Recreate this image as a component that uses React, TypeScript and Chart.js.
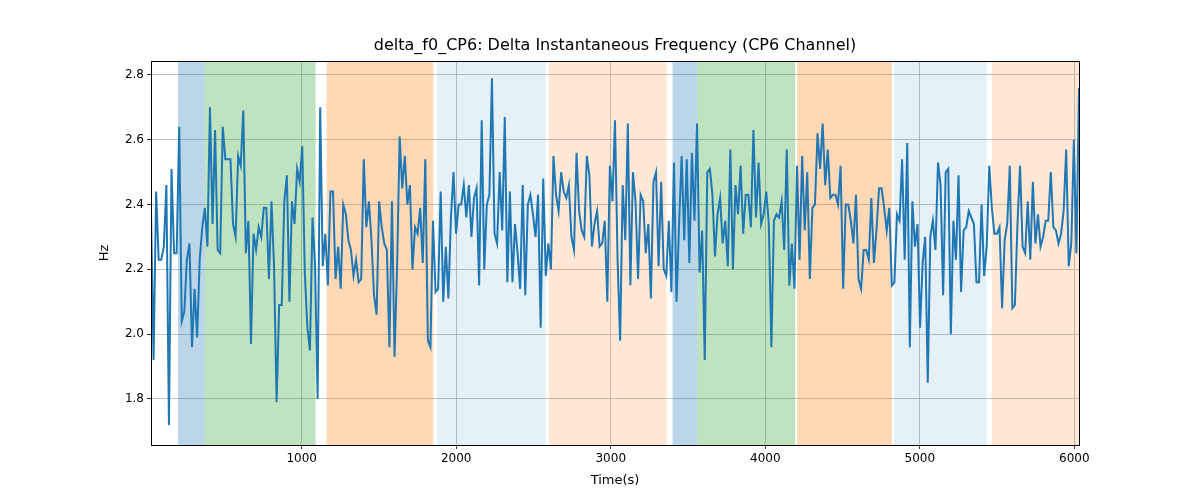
import React, { useEffect, useRef } from "react";
import { Chart, registerables } from "chart.js";
Chart.register(...registerables);

const TITLE = "delta_f0_CP6: Delta Instantaneous Frequency (CP6 Channel)";
const X_LABEL = "Time(s)";
const Y_LABEL = "Hz";
const T_START = 25;
const T_END = 6030;
const Y_TICKS = [1.8, 2.0, 2.2, 2.4, 2.6, 2.8];
const X_TICKS = [1000, 2000, 3000, 4000, 5000, 6000];

const VALUES: number[] = [
  2.38, 1.92, 2.44, 2.23, 2.23, 2.27, 2.46, 1.72, 2.51, 2.25, 2.25, 2.64, 2.04, 2.07, 2.23, 2.28, 1.96, 2.14, 1.99, 2.23,
  2.33, 2.39, 2.27, 2.70, 2.34, 2.63, 2.26, 2.25, 2.64, 2.54, 2.54, 2.54, 2.34, 2.30, 2.55, 2.52, 2.69, 2.25, 2.35, 1.97,
  2.31, 2.26, 2.33, 2.30, 2.39, 2.39, 2.17, 2.41, 2.21, 1.79, 2.09, 2.09, 2.41, 2.49, 2.10, 2.41, 2.34, 2.51, 2.47,
  2.58, 2.19, 2.02, 1.95, 2.36, 2.21, 1.80, 2.70, 2.21, 2.31, 2.15, 2.44, 2.44, 2.17, 2.27, 2.14, 2.40, 2.37, 2.29, 2.26,
  2.18, 2.23, 2.16, 2.17, 2.54, 2.33, 2.41, 2.29, 2.12, 2.06, 2.41, 2.33, 2.28, 2.26, 1.96, 2.41, 1.93, 2.21, 2.61, 2.45,
  2.55, 2.40, 2.46, 2.20, 2.33, 2.31, 2.39, 2.22, 2.54, 1.98, 1.96, 2.35, 2.13, 2.14, 2.44, 2.10, 2.27, 2.11, 2.36, 2.50,
  2.31, 2.40, 2.40, 2.46, 2.36, 2.46, 2.30, 2.42, 2.45, 2.15, 2.66, 2.20, 2.40, 2.43, 2.79, 2.31, 2.28, 2.50, 2.32, 2.67,
  2.16, 2.44, 2.16, 2.34, 2.25, 2.14, 2.46, 2.12, 2.40, 2.43, 2.37, 2.30, 2.43, 2.02, 2.48, 2.18, 2.28, 2.20, 2.55, 2.43,
  2.38, 2.50, 2.44, 2.42, 2.46, 2.30, 2.26, 2.56, 2.38, 2.32, 2.30, 2.55, 2.49, 2.27, 2.34, 2.38, 2.27, 2.28, 2.35, 2.10, 2.52,
  2.41, 2.66, 2.23, 1.98, 2.46, 2.29, 2.65, 2.15, 2.50, 2.41, 2.17, 2.43, 2.41, 2.25, 2.34, 2.11, 2.47, 2.50, 2.21, 2.47,
  2.20, 2.18, 2.35, 2.13, 2.53, 2.10, 2.34, 2.55, 2.29, 2.54, 2.22, 2.56, 2.35, 2.65, 2.19, 2.32, 1.92, 2.50, 2.51, 2.43,
  2.24, 2.37, 2.42, 2.28, 2.35, 2.21, 2.57, 2.20, 2.46, 2.37, 2.52, 2.31, 2.43, 2.43, 2.33, 2.63, 2.36, 2.53, 2.34,
  2.37, 2.44, 2.34, 1.96, 2.35, 2.37, 2.36, 2.41, 2.26, 2.57, 2.15, 2.28, 2.14, 2.52, 2.23, 2.55, 2.32, 2.50, 2.17, 2.39,
  2.40, 2.62, 2.51, 2.65, 2.46, 2.57, 2.42, 2.43, 2.43, 2.40, 2.52, 2.14, 2.40, 2.40, 2.35, 2.28, 2.43, 2.17, 2.14, 2.26,
  2.26, 2.23, 2.42, 2.22, 2.32, 2.45, 2.45, 2.39, 2.32, 2.39, 2.15, 2.16, 2.37, 2.35, 2.54, 2.23, 2.59, 1.96, 2.41, 2.27,
  2.34, 2.02, 2.22, 2.30, 1.85,
  2.30, 2.35, 2.26, 2.53, 2.46, 2.12, 2.50, 2.51, 2.00, 2.35, 2.23, 2.49, 2.13, 2.32, 2.33, 2.38, 2.36, 2.34, 2.16, 2.16,
  2.40, 2.18, 2.27, 2.52, 2.39, 2.31, 2.31, 2.33, 2.08, 2.29, 2.34, 2.52, 2.08, 2.09, 2.34, 2.52, 2.27, 2.25, 2.41, 2.23,
  2.47, 2.28, 2.37, 2.27, 2.30, 2.35, 2.35, 2.50, 2.33, 2.32, 2.28, 2.31, 2.38, 2.57, 2.21, 2.28, 2.60, 2.25, 2.76,
];

const BAND_START = [200, 374, 1161, 1877, 2600, 3400, 3561, 4206, 4832, 5465];
const BAND_END = [374, 1090, 1852, 2580, 3361, 3561, 4194, 4819, 5432, 6030];
const BAND_COLOR = [
  "rgba(31,119,180,0.3)", "rgba(44,160,44,0.3)", "rgba(255,127,14,0.3)", "rgba(31,119,180,0.11)", "rgba(255,127,14,0.17)",
  "rgba(31,119,180,0.3)", "rgba(44,160,44,0.3)", "rgba(255,127,14,0.3)", "rgba(31,119,180,0.11)", "rgba(255,127,14,0.17)",
];

const FONT = "'DejaVu Sans', sans-serif";

export default function App() {
  const ref = useRef<HTMLCanvasElement>(null);
  useEffect(() => {
    const step = (T_END - T_START) / (VALUES.length - 1);
    const pts = VALUES.map((v, i) => ({ x: T_START + i * step, y: v }));
    const bands = {
      id: "bands",
      beforeDatasetsDraw(chart: any) {
        const { ctx, chartArea: a, scales } = chart;
        ctx.save();
        ctx.beginPath();
        ctx.rect(a.left, a.top, a.right - a.left, a.bottom - a.top);
        ctx.clip();
        BAND_START.forEach((s, i) => {
          const x0 = scales.x.getPixelForValue(s);
          const x1 = scales.x.getPixelForValue(BAND_END[i]);
          ctx.fillStyle = BAND_COLOR[i];
          ctx.fillRect(x0, a.top, x1 - x0, a.bottom - a.top);
        });
        ctx.restore();
      },
      afterDraw(chart: any) {
        const { ctx, chartArea: a } = chart;
        ctx.save();
        ctx.strokeStyle = "#000";
        ctx.lineWidth = 1;
        ctx.strokeRect(Math.round(a.left) + 0.5, Math.round(a.top) + 0.5, Math.round(a.right - a.left), Math.round(a.bottom - a.top));
        ctx.fillStyle = "#000";
        ctx.textAlign = "center";
        ctx.textBaseline = "middle";
        ctx.font = `16px ${FONT}`;
        ctx.fillText(TITLE, (a.left + a.right) / 2, 46);
        ctx.font = `13px ${FONT}`;
        ctx.fillText(X_LABEL, (a.left + a.right) / 2, 481);
        ctx.translate(105, (a.top + a.bottom) / 2);
        ctx.rotate(-Math.PI / 2);
        ctx.fillText(Y_LABEL, 0, 0);
        ctx.restore();
      },
    };
    const chart = new Chart(ref.current!, {
      type: "line",
      data: {
        datasets: [
          { data: pts, borderColor: "#1f77b4", borderWidth: 2, pointRadius: 0, tension: 0, fill: false },
        ],
      },
      options: {
        animation: false,
        responsive: false,
        devicePixelRatio: 1,
        layout: { padding: { left: 95, right: 121, top: 61, bottom: 0 } },
        plugins: { legend: { display: false }, tooltip: { enabled: false }, title: { display: false } },
        scales: {
          x: {
            type: "linear",
            min: T_START,
            max: T_END,
            afterFit: (s: any) => { s.height = 55; },
            afterBuildTicks: (s: any) => { s.ticks = X_TICKS.map((v) => ({ value: v })); },
            grid: { color: "#b0b0b0", lineWidth: 0.8, tickColor: "#000", tickLength: 4 },
            border: { color: "#000", width: 1 },
            ticks: { color: "#000", font: { family: FONT, size: 12 }, maxRotation: 0, callback: (v: any) => String(v) },
          },
          y: {
            min: 1.658,
            max: 2.843,
            afterFit: (s: any) => { s.width = 56; },
            afterBuildTicks: (s: any) => { s.ticks = Y_TICKS.map((v) => ({ value: v })); },
            grid: { color: "#b0b0b0", lineWidth: 0.8, tickColor: "#000", tickLength: 4 },
            border: { color: "#000", width: 1 },
            ticks: { color: "#000", font: { family: FONT, size: 12 }, callback: (v: any) => Number(v).toFixed(1) },
          },
        },
      },
      plugins: [bands],
    });
    return () => chart.destroy();
  }, []);
  return (
    <div style={{ position: "fixed", left: 0, top: 0, width: 1200, height: 500, background: "#fff" }}>
      <canvas ref={ref} width={1200} height={500} />
    </div>
  );
}
